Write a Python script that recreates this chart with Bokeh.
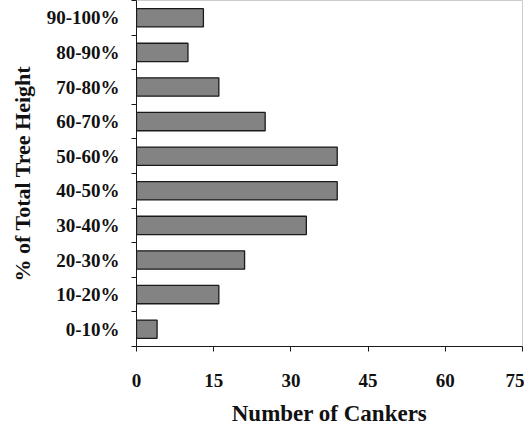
from bokeh.plotting import figure
from bokeh.models import FixedTicker, ColumnDataSource
from bokeh.embed import file_html
from bokeh.resources import INLINE

categories = ["0-10%", "10-20%", "20-30%", "30-40%", "40-50%",
              "50-60%", "60-70%", "70-80%", "80-90%", "90-100%"]
cankers = [4, 16, 21, 33, 39, 39, 25, 16, 10, 13]
x_ticks = [0, 15, 30, 45, 60, 75]

n = len(categories)
ypos = [i + 0.5 for i in range(n)]
src = ColumnDataSource(dict(y=ypos, right=cankers, cat=categories))

FONT = "Liberation Serif"

p = figure(width=524, height=428, output_backend="svg", toolbar_location=None,
           x_range=(0, 75), y_range=(0, n),
           min_border_left=136, min_border_top=0, min_border_right=2,
           min_border_bottom=74)

p.hbar(y="y", right="right", left=0, height=0.53, source=src,
       fill_color="#838383", line_color="#1a1a1a", line_width=1.3)

p.xgrid.visible = False
p.ygrid.visible = False
p.outline_line_color = "#cccccc"
p.outline_line_width = 1
p.background_fill_color = "white"
p.border_fill_color = "white"

xa = p.xaxis[0]
xa.ticker = FixedTicker(ticks=x_ticks)
xa.axis_label = "Number of Cankers"
xa.axis_label_text_font = FONT
xa.axis_label_text_font_style = "bold"
xa.axis_label_text_font_size = "23px"
xa.axis_label_standoff = 11
xa.major_label_text_font = FONT
xa.major_label_text_font_style = "bold"
xa.major_label_text_font_size = "19px"
xa.major_label_standoff = 22
xa.major_tick_out = 5
xa.major_tick_in = 0
xa.minor_tick_line_color = None
xa.axis_line_color = "#1a1a1a"
xa.major_tick_line_color = "#1a1a1a"
xa.major_label_text_color = "#111111"
xa.axis_label_text_color = "#111111"

ya = p.yaxis[0]
ya.ticker = FixedTicker(ticks=ypos, minor_ticks=list(range(n + 1)))
ya.major_label_overrides = {y: c for y, c in zip(ypos, categories)}
ya.axis_label = "% of Total Tree Height"
ya.axis_label_text_font = FONT
ya.axis_label_text_font_style = "bold"
ya.axis_label_text_font_size = "22px"
ya.axis_label_standoff = 9
ya.major_label_text_font = FONT
ya.major_label_text_font_style = "bold"
ya.major_label_text_font_size = "19px"
ya.major_label_standoff = 11
ya.major_tick_line_color = None
ya.minor_tick_out = 5
ya.minor_tick_in = 0
ya.minor_tick_line_color = "#1a1a1a"
ya.axis_line_color = "#1a1a1a"
ya.major_label_text_color = "#111111"
ya.axis_label_text_color = "#111111"

open("out.html", "w").write(file_html(p, INLINE))
